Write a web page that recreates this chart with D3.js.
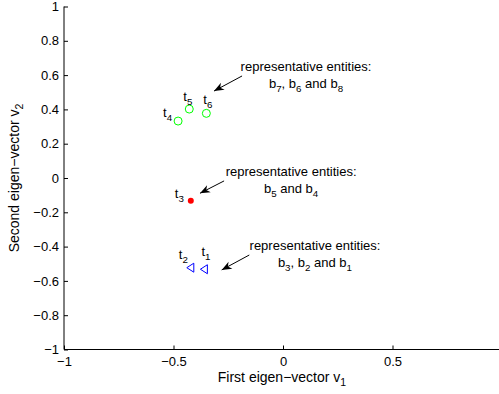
<!DOCTYPE html>
<html><head><meta charset="utf-8">
<script src="https://cdn.jsdelivr.net/npm/d3@7"></script>
<style>body{margin:0;background:#fff}svg{display:block}text{font-family:"Liberation Sans",Arial,sans-serif;}</style>
</head><body><svg id="c" width="499" height="394"></svg>
<script>
// ---- data ----
const xTicks = [-1, -0.5, 0, 0.5, 1];
const yTicks = [-1, -0.8, -0.6, -0.4, -0.2, 0, 0.2, 0.4, 0.6, 0.8, 1];
const pointNames = ["t1", "t2", "t3", "t4", "t5", "t6"];
const pointX = [-0.359, -0.421, -0.421, -0.479, -0.428, -0.350];
const pointY = [-0.532, -0.523, -0.132, 0.332, 0.402, 0.377];
const pointGroup = ["triangle", "triangle", "dot", "circle", "circle", "circle"];
// annotation text (subscripts after "_") and arrows in data coordinates
const noteLine1 = ["representative entities:", "representative entities:", "representative entities:"];
const noteLine2 = ["b_7, b_6 and b_8", "b_5 and b_4", "b_3, b_2 and b_1"];
const noteX = [0.105, 0.037, 0.146];
const noteY = [0.624, 0.012, -0.420];
const arrowTailX = [-0.187, -0.269, -0.154];
const arrowTailY = [0.595, -0.017, -0.449];
const arrowHeadX = [-0.315, -0.379, -0.280];
const arrowHeadY = [0.507, -0.089, -0.536];

// ---- layout ----
const svg = d3.select("#c");
const x = d3.scaleLinear().domain([-1, 1]).range([64, 502]);
const y = d3.scaleLinear().domain([-1, 1]).range([349.5, 6.5]);
const fmt = v => (v < 0 ? "\u2212" : "") + String(Math.abs(Math.round(v * 10) / 10));

function addSub(sel, str, size) {
  const parts = str.split(/(_\S)/).filter(p => p);
  let shifted = false;
  parts.forEach(p => {
    if (p[0] === "_") {
      sel.append("tspan").attr("dy", 4).attr("font-size", size * 0.75).text(p[1]);
      shifted = true;
    } else {
      const t = sel.append("tspan").text(p);
      if (shifted) { t.attr("dy", -4); shifted = false; }
    }
  });
}

// axes
const gx = svg.append("g").attr("transform", `translate(0,${y(-1)})`)
  .call(d3.axisBottom(x).tickValues(xTicks).tickSize(-4).tickPadding(7).tickFormat(fmt));
const gy = svg.append("g").attr("transform", `translate(${x(-1)},0)`)
  .call(d3.axisLeft(y).tickValues(yTicks).tickSize(-4).tickPadding(5).tickFormat(fmt));
[gx, gy].forEach(g => {
  g.select(".domain").attr("stroke", "#000").attr("stroke-width", 1);
  g.selectAll(".tick line").attr("stroke", "#000");
  g.selectAll(".tick text").attr("font-size", 13).attr("fill", "#000")
    .attr("font-family", "'Liberation Sans',Arial,sans-serif");
});
gx.select(".domain").attr("d", `M${x(-1)},0H${x(1)}`);
gy.select(".domain").attr("d", `M0,${y(-1)}V${y(1)}`);

// axis labels
const xl = svg.append("text").attr("x", (x(-1) + x(1)) / 2 - 1).attr("y", 382)
  .attr("text-anchor", "middle").attr("font-size", 14);
addSub(xl, "First eigen\u2212vector v_1", 14);
const yl = svg.append("text").attr("transform", `translate(19,${(y(-1) + y(1)) / 2}) rotate(-90)`)
  .attr("text-anchor", "middle").attr("font-size", 14);
addSub(yl, "Second eigen\u2212vector v_2", 14);

// points
pointNames.forEach((n, i) => {
  const px = x(pointX[i]), py = y(pointY[i]);
  const g = pointGroup[i];
  if (g === "circle") {
    svg.append("circle").attr("cx", px).attr("cy", py).attr("r", 4)
      .attr("fill", "none").attr("stroke", "#00ff00").attr("stroke-width", 1);
  } else if (g === "dot") {
    svg.append("circle").attr("cx", px).attr("cy", py).attr("r", 3)
      .attr("fill", "#ff0000");
  } else {
    svg.append("path").attr("d", `M${px - 4},${py}L${px + 3},${py - 4.5}L${px + 3},${py + 4.5}Z`)
      .attr("fill", "none").attr("stroke", "#0000ff").attr("stroke-width", 1);
  }
});
// point labels (placed to the upper-left of each marker)
const labelDX = [-3, -12, -16, -15, -6, -3];
const labelDY = [-13, -9, -3, -4, -8, -9];
pointNames.forEach((n, i) => {
  const t = svg.append("text").attr("x", x(pointX[i]) + labelDX[i]).attr("y", y(pointY[i]) + labelDY[i])
    .attr("font-size", 13);
  addSub(t, n.replace("t", "t_"), 13);
});

// annotations
noteLine1.forEach((l1, i) => {
  const cx = x(noteX[i]), by = y(noteY[i]);
  svg.append("text").attr("x", cx).attr("y", by).attr("text-anchor", "middle").attr("font-size", 13).text(l1);
  const t2 = svg.append("text").attr("x", cx).attr("y", by + 17).attr("text-anchor", "middle").attr("font-size", 13);
  addSub(t2, noteLine2[i], 13);
  const x1 = x(arrowTailX[i]), y1 = y(arrowTailY[i]), x2 = x(arrowHeadX[i]), y2 = y(arrowHeadY[i]);
  svg.append("line").attr("x1", x1).attr("y1", y1).attr("x2", x2).attr("y2", y2)
    .attr("stroke", "#000").attr("stroke-width", 1);
  const a = Math.atan2(y2 - y1, x2 - x1), L = 10, W = 4, N = 7;
  const ux = Math.cos(a), uy = Math.sin(a);
  const bx = x2 - ux * L, byy = y2 - uy * L;
  const pts = [[x2, y2], [bx - uy * W, byy + ux * W], [x2 - ux * N, y2 - uy * N], [bx + uy * W, byy - ux * W]];
  svg.append("path").attr("d", "M" + pts.map(p => p.join(",")).join("L") + "Z").attr("fill", "#000");
});
</script></body></html>
